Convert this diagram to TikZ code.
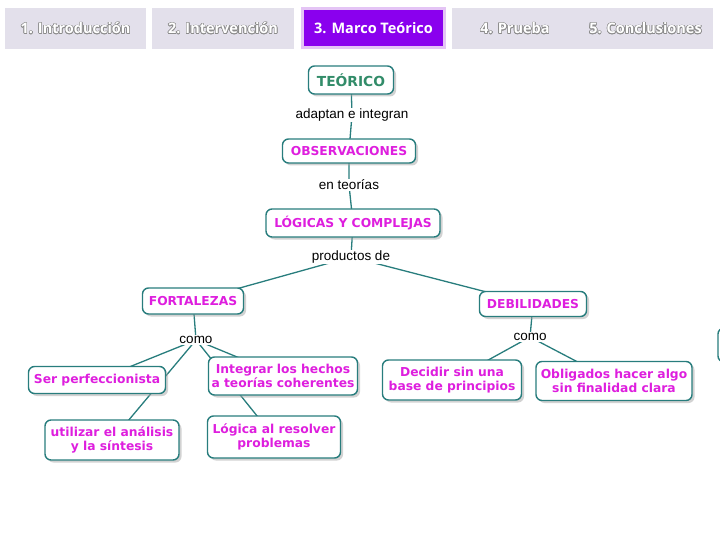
\documentclass[tikz,border=0pt]{standalone}
\usepackage{fontspec}
\setmainfont{DejaVu Sans}
\newfontfamily\linkfont{Liberation Sans}
\newfontfamily\tabfont{Open Sans}
\usepackage{tikz}
\usepackage[copies]{contour}
\usetikzlibrary{shapes,positioning,shadows,backgrounds}
\contourlength{0.6pt}
\contournumber{16}

\definecolor{mapline}{RGB}{40,125,125}
\definecolor{mapmagenta}{RGB}{222,30,222}
\definecolor{mapgreen}{RGB}{50,140,105}
\definecolor{tabgray}{RGB}{227,224,235}
\definecolor{tabpurple}{RGB}{138,0,238}
\definecolor{tabrim}{RGB}{228,196,245}

\newcommand{\tabtext}[1]{\contour{black!45}{#1}}

\begin{document}
\begin{tikzpicture}
                [
                    x=1pt, y=-1pt,
                    conceptbox/.style={rectangle, rounded corners=6pt, draw=mapline, line width=1.4pt, fill=white, drop shadow={shadow xshift=2.5pt, shadow yshift=-2.5pt, fill=black!35, opacity=0.5}, text=mapmagenta, font=\bfseries\fontsize{12.3}{14}\selectfont, align=center, inner sep=2pt},
                    linkword/.style={fill=white, inner sep=1pt, text=black, font=\linkfont\fontsize{13.5}{15}\selectfont},
                    tabbox/.style={rectangle, fill=tabgray, minimum height=41pt, text=white, font=\tabfont\bfseries\fontsize{14.5}{16}\selectfont},
                    connector/.style={draw=mapline, line width=1.3pt},
                ]
                \useasboundingbox (0,0) rectangle (720,540);

                % navigation tabs
                \node [tabbox, minimum width=141pt] (intro) at (75.5,28.5) {\tabtext{1. Introducción}};
                \node [tabbox, minimum width=142pt] (interv) at (223,28.5) {\tabtext{2. Intervención}};
                \node [tabbox, fill=tabpurple, draw=tabrim, line width=3pt, minimum width=142pt, minimum height=39pt] (marco) at (373.5,28.5) {3. Marco Teórico};
                \node [tabbox, minimum width=126pt] (prueba) at (515,28.5) {\tabtext{4. Prueba}};
                \node [tabbox, minimum width=135pt] (conclus) at (645.5,28.5) {\tabtext{5. Conclusiones}};

                % concept map
                \node [conceptbox, text=mapgreen, font=\bfseries\fontsize{13.8}{15}\selectfont, minimum width=85pt, minimum height=28pt] (teorico) at (351,80) {TEÓRICO};
                \node [linkword] (adaptan) at (352,115) {adaptan e integran};
                \node [conceptbox, minimum width=133pt, minimum height=24pt] (observ) at (349,151) {OBSERVACIONES};
                \node [linkword] (enteorias) at (349,185) {en teorías};
                \node [conceptbox, minimum width=174pt, minimum height=28pt] (logicas) at (353,223) {LÓGICAS Y COMPLEJAS};
                \node [linkword] (productos) at (351,257) {productos de};
                \node [conceptbox, minimum width=101pt, minimum height=26pt] (fortalezas) at (193,301) {FORTALEZAS};
                \node [conceptbox, minimum width=107pt, minimum height=25pt] (debilidades) at (533,304) {DEBILIDADES};
                \node [linkword] (comoF) at (196,340) {como};
                \node [linkword] (comoD) at (530,337) {como};
                \node [conceptbox, minimum width=137pt, minimum height=27pt] (perfecc) at (97,380) {Ser perfeccionista};
                \node [conceptbox, minimum width=149pt, minimum height=38pt] (integrar) at (283,376) {Integrar los hechos\\a teorías coherentes};
                \node [conceptbox, minimum width=134pt, minimum height=40pt] (analisis) at (112,440) {utilizar el análisis\\y la síntesis};
                \node [conceptbox, minimum width=133pt, minimum height=42pt] (resolver) at (274,437) {Lógica al resolver\\problemas};
                \node [conceptbox, minimum width=139pt, minimum height=40pt] (decidir) at (452,380) {Decidir sin una\\base de principios};
                \node [conceptbox, minimum width=156pt, minimum height=39pt] (obligados) at (614,381) {Obligados hacer algo\\sin finalidad clara};
                \node [conceptbox, minimum width=30pt, minimum height=34pt] (cutoff) at (733,345) {};

                \begin{scope}[on background layer]
                \draw[connector] (teorico.center) -- (adaptan.center) -- (observ.center) -- (enteorias.center) -- (logicas.center) -- (productos.center);
                \draw[connector] (productos.center) -- (fortalezas.center);
                \draw[connector] (productos.center) -- (debilidades.center);
                \draw[connector] (fortalezas.center) -- (comoF.center);
                \draw[connector] (debilidades.center) -- (comoD.center);
                \draw[connector] (comoF.center) -- (perfecc.center);
                \draw[connector] (comoF.center) -- (analisis.center);
                \draw[connector] (comoF.center) -- (integrar.center);
                \draw[connector] (comoF.center) -- (resolver.center);
                \draw[connector] (comoD.center) -- (decidir.center);
                \draw[connector] (comoD.center) -- (obligados.center);
                \end{scope}

            \end{tikzpicture}
\end{document}
